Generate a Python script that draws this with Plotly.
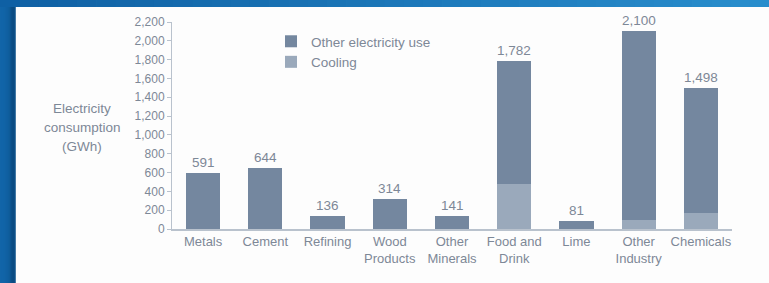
import plotly.graph_objects as go

categories = ["Metals", "Cement", "Refining", "Wood<br>Products", "Other<br>Minerals",
              "Food and<br>Drink", "Lime", "Other<br>Industry", "Chemicals"]
totals = [591, 644, 136, 314, 141, 1782, 81, 2100, 1498]
cooling = [0, 0, 0, 0, 0, 480, 0, 95, 175]
other_use = [t - c for t, c in zip(totals, cooling)]
y_ticks = list(range(0, 2201, 200))

W, H = 769, 283
DARK = "#74879f"
LIGHT = "#9aa9bb"
TXT = "#7d8897"
FONT = "Liberation Sans, Arial, sans-serif"

fig = go.Figure()
fig.add_trace(go.Bar(x=categories, y=cooling, name="Cooling", marker_color=LIGHT,
                     marker_line_width=0))
fig.add_trace(go.Bar(x=categories, y=other_use, name="Other electricity use",
                     marker_color=DARK, marker_line_width=0))

for c, t in zip(categories, totals):
    fig.add_annotation(x=c, y=t, text=f"{t:,}", showarrow=False, yanchor="bottom",
                       yshift=1, font=dict(size=13.5, color=TXT, family=FONT))

# y axis title (horizontal, three lines)
for i, line in enumerate(["Electricity", "consumption", "(GWh)"]):
    fig.add_annotation(x=82 / W, y=1 - (108 + 19 * i) / H, xref="paper", yref="paper",
                       text=line, showarrow=False, xanchor="center", yanchor="middle",
                       font=dict(size=13.5, color=TXT, family=FONT))

shapes = []
# left blue frame strip
left_cols = ["#1265a8", "#1265a8", "#1164a7", "#1163a6", "#1062a4", "#1061a2",
             "#0f5f9f", "#0e5b99", "#0c5590", "#0b4e86", "#0a4a80", "#0c5088"]
lw = 15 / len(left_cols)
for i, col in enumerate(left_cols):
    shapes.append(dict(type="rect", xref="paper", yref="paper", x0=i * lw / W,
                       x1=(i + 1) * lw / W + 0.001, y0=0, y1=1, fillcolor=col,
                       line_width=0, layer="below"))
# top blue strip gradient
n = 40
def lerp(a, b, t):
    return int(round(a + (b - a) * t))
c0 = (0x0f, 0x60, 0xa4)
c1 = (0x28, 0x8d, 0xcc)
for i in range(n):
    t = i / (n - 1)
    col = "#%02x%02x%02x" % tuple(lerp(a, b, t) for a, b in zip(c0, c1))
    shapes.append(dict(type="rect", xref="paper", yref="paper", x0=i / n,
                       x1=(i + 1) / n + 0.001, y0=1 - 7 / H, y1=1, fillcolor=col,
                       line_width=0, layer="below"))

fig.update_layout(
    width=W, height=H, autosize=False, margin=dict(l=0, r=0, t=0, b=0, pad=0),
    paper_bgcolor="#fdfdfd", plot_bgcolor="rgba(0,0,0,0)",
    barmode="stack", bargap=0.45,
    font=dict(family=FONT, color=TXT),
    shapes=shapes,
    showlegend=True,
    legend=dict(x=271 / W, y=1 - 26 / H, xanchor="left", yanchor="top",
                traceorder="reversed",
                bgcolor="rgba(0,0,0,0)", font=dict(size=13.5, color=TXT, family=FONT),
                tracegroupgap=0),
    xaxis=dict(domain=[172 / W, 732 / W], range=[-0.5, 8.5], showgrid=False,
               automargin=False,
               showline=True, linecolor="#b9c2cd", linewidth=1.5, ticks="",
               tickfont=dict(size=13, color=TXT, family=FONT), zeroline=False),
    yaxis=dict(domain=[1 - 229 / H, 1 - 22 / H], range=[0, 2200], tickvals=y_ticks,
               automargin=False,
               ticktext=[f"{v:,}" for v in y_ticks], showgrid=False, zeroline=False,
               showline=True, linecolor="#b9c2cd", linewidth=1, ticks="outside",
               ticklen=4, tickcolor="#b9c2cd",
               tickfont=dict(size=12, color=TXT, family=FONT)),
)

fig.write_html("out.html", config={"displayModeBar": False, "responsive": False},
               post_script="document.body.style.margin='0';document.body.style.overflow='hidden';")
